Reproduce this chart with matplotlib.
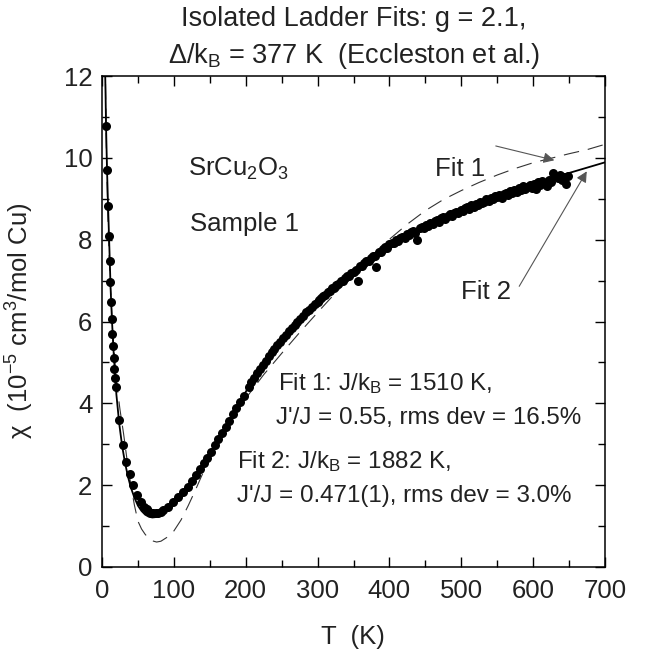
import matplotlib
matplotlib.use('Agg')
import matplotlib.pyplot as plt

# measured susceptibility, SrCu2O3 sample 1 (T in K, chi in 1e-5 cm^3/mol Cu)
T_data = [5.6, 7.0, 8.4, 9.6, 10.6, 11.6, 12.6, 13.6, 14.6, 15.4, 16.2, 17.1, 18.2, 19.3,
          24.1, 28.9, 33.5, 39.1, 43.7, 49.2, 54.4, 59.0, 62.0, 64.6, 68.0, 71.5, 75.0,
          78.5, 82.0, 85.5, 92.5, 99.4,
          106.4, 113.4, 119.0, 125.0, 131.0, 137.0, 141.5, 146.5, 152.0, 157.0, 162.0,
          167.0, 172.0, 177.0, 182.0, 187.0, 192.0, 197.0,
          204, 208, 212, 216, 220, 224, 228, 232, 236, 240, 244, 248, 252, 256, 260,
          264, 268, 272, 276, 280, 284, 288, 292, 296, 300,
          302, 305, 308, 311, 314, 317, 320, 323, 326, 329, 332, 335, 338, 341, 344,
          347, 350, 353, 356, 359, 362, 365, 368, 371, 374, 377, 380, 382, 385, 388,
          391, 394, 397, 400, 403, 406, 409, 412, 415, 418, 421, 424, 427, 430, 433,
          436, 439, 442, 445, 448, 451, 454, 457, 460, 463, 466, 469, 472, 475, 478,
          481, 484, 487, 490, 493, 496, 499, 502, 505, 508, 511, 514, 517, 520, 523,
          526, 529, 532, 535, 538, 541, 544, 547, 550, 553, 556, 559, 562, 565, 568,
          571, 574, 577, 580, 583, 586, 589, 592, 595, 598, 601, 604, 607, 610, 613,
          616, 619, 622, 625, 628, 631, 634, 637, 640, 643, 646, 649]
chi_data = [10.78, 9.71, 8.83, 8.10, 7.47, 6.96, 6.47, 6.07, 5.70, 5.40, 5.12, 4.85, 4.62, 4.40,
            3.59, 2.99, 2.57, 2.27, 2.00, 1.77, 1.59, 1.47, 1.41, 1.37, 1.33, 1.31, 1.31,
            1.32, 1.35, 1.39, 1.47, 1.59,
            1.71, 1.83, 1.95, 2.09, 2.24, 2.39, 2.53, 2.67, 2.82, 2.98, 3.13,
            3.28, 3.43, 3.58, 3.74, 3.89, 4.04, 4.19,
            4.40, 4.51, 4.62, 4.73, 4.84, 4.94, 5.04, 5.15, 5.25, 5.34, 5.43, 5.51, 5.59, 5.67, 5.76,
            5.84, 5.91, 5.99, 6.07, 6.14, 6.22, 6.29, 6.35, 6.42, 6.48,
            6.52, 6.57, 6.63, 6.65, 6.72, 6.75, 6.81, 6.83, 6.90, 6.91, 6.99, 7.00, 7.06, 7.10, 7.12,
            7.19, 7.21, 7.26, 7.00, 7.35, 7.36, 7.42, 7.47, 7.48, 7.55, 7.59, 7.60, 7.32, 7.70, 7.71,
            7.77, 7.82, 7.80, 7.90, 7.92, 7.91, 8.00, 7.97, 8.04, 8.06, 8.05, 8.13, 8.12, 8.18, 8.20,
            8.17, 7.98, 8.28, 8.30, 8.29, 8.36, 8.34, 8.41, 8.39, 8.45, 8.47, 8.44, 8.52, 8.55, 8.51,
            8.58, 8.62, 8.57, 8.65, 8.68, 8.64, 8.73, 8.70, 8.77, 8.80, 8.74, 8.84, 8.81, 8.88, 8.85,
            8.93, 8.90, 8.92, 8.99, 8.95, 9.03, 9.00, 9.06, 9.04, 9.10, 9.03, 9.12, 9.14, 9.08, 9.18,
            9.15, 9.22, 9.17, 9.26, 9.21, 9.30, 9.24, 9.28, 9.34, 9.27, 9.37, 9.24, 9.40, 9.34, 9.44,
            9.38, 9.32, 9.47, 9.42, 9.62, 9.56, 9.50, 9.58, 9.45, 9.52, 9.36, 9.55]

# Fit 1 (dashed)
T_fit1 = [4.6, 5, 6, 8, 10, 12, 15, 20, 25, 30, 35, 40, 45, 50, 55, 60, 65, 70, 76, 82, 90,
          100, 110, 120, 130, 140, 150, 160, 170, 180, 190, 200, 225, 250, 275, 300, 325,
          350, 375, 400, 425, 450, 475, 500, 525, 550, 575, 600, 625, 650, 675, 700]
chi_fit1 = [12.4, 11.6, 10.3, 8.65, 7.6, 6.75, 5.7, 4.55, 3.85, 3.26, 2.6, 2.02, 1.52, 1.12,
            0.93, 0.80, 0.70, 0.64, 0.61, 0.63, 0.72, 0.88, 1.15, 1.50, 1.88, 2.28, 2.66,
            3.01, 3.31, 3.59, 3.86, 4.12, 4.70, 5.22, 5.73, 6.22, 6.70, 7.16, 7.60, 8.01,
            8.38, 8.71, 8.98, 9.20, 9.40, 9.58, 9.74, 9.88, 9.99, 10.1, 10.2, 10.33]

# Fit 2 (solid)
T_fit2 = [4.0, 5.0, 5.6, 7.0, 8.4, 10, 12, 14, 16, 18, 20, 24, 28, 32, 36, 40, 45, 50, 55,
          60, 65, 70, 75, 80, 85, 90, 95, 100, 110, 120, 130, 140, 150, 160, 170, 180, 190,
          200, 225, 250, 275, 300, 325, 350, 375, 400, 425, 450, 475, 500, 525, 550, 575,
          600, 625, 650, 675, 700]
chi_fit2 = [12.5, 11.5, 10.8, 9.7, 8.85, 7.95, 6.8, 5.98, 5.3, 4.72, 4.22, 3.5, 2.96, 2.55,
            2.22, 1.95, 1.70, 1.50, 1.37, 1.28, 1.23, 1.21, 1.22, 1.26, 1.32, 1.40, 1.49,
            1.59, 1.78, 1.99, 2.25, 2.52, 2.78, 3.07, 3.37, 3.67, 3.98, 4.28, 4.97, 5.55,
            6.05, 6.48, 6.88, 7.22, 7.56, 7.88, 8.12, 8.35, 8.55, 8.73, 8.90, 9.06, 9.22,
            9.37, 9.50, 9.63, 9.76, 9.89]

x_ticks = [0, 100, 200, 300, 400, 500, 600, 700]
y_ticks = [0, 2, 4, 6, 8, 10, 12]

plt.rcParams['font.family'] = ['Liberation Sans', 'DejaVu Sans']
plt.rcParams['mathtext.fontset'] = 'custom'
plt.rcParams['mathtext.rm'] = 'Liberation Sans'
plt.rcParams['mathtext.it'] = 'Liberation Sans:italic'
plt.rcParams['mathtext.bf'] = 'Liberation Sans:bold'

txt = '#222222'

fig = plt.figure(figsize=(6.49, 6.56), dpi=100)
ax = fig.add_axes([102/649, 89/656, 503/649, 491/656])

ax.plot(T_fit1, chi_fit1, color='#333333', lw=0.8, ls=(0, (14, 8)))
ax.plot(T_fit2, chi_fit2, color='black', lw=1.3)
ax.plot(T_data, chi_data, 'o', color='black', ms=6.5, mec='none')

ax.set_xlim(0, 700)
ax.set_ylim(0, 12)
ax.set_xticks(x_ticks)
ax.set_xticks(range(50, 700, 100), minor=True)
ax.set_yticks(y_ticks)
ax.set_yticks(range(1, 12, 2), minor=True)
ax.tick_params(which='both', direction='in', top=True, right=True, width=1.0,
               labelsize=18.5, labelcolor=txt)
ax.tick_params(which='major', length=7.5)
ax.tick_params(which='minor', length=5)
ax.tick_params(axis='x', pad=9)
ax.tick_params(axis='y', pad=7)
for s in ax.spines.values():
    s.set_linewidth(1.1)

fig.text(354/649, 1 - 26/656, 'Isolated Ladder Fits: g = 2.1,', fontsize=19.5,
         ha='center', va='baseline', color=txt)
fig.text(354/649, 1 - 63/656, 'Δ/k$_\\mathrm{B}$ = 377 K  (Eccleston et al.)',
         fontsize=19.5, ha='center', va='baseline', color=txt)
fig.text(353/649, 1 - 637/656, 'T  (K)', fontsize=18.5, ha='center', va='center', color=txt)
fig.text(20/649, 1 - 321/656, 'χ  (10$^{-5}$ cm$^3$/mol Cu)', fontsize=18.5,
         rotation=90, ha='center', va='center', color=txt)

ax.text(120, 9.56, r'SrCu$_2$O$_3$', fontsize=18.5, color=txt, va='baseline')
ax.text(123, 8.22, 'Sample 1', fontsize=18.5, color=txt, va='baseline')

ax.text(245.5, 4.33, r'Fit 1: J/k$_\mathrm{B}$ = 1510 K,', fontsize=17.4, color=txt, va='baseline')
ax.text(242.7, 3.50, "J'/J = 0.55, rms dev = 16.5%", fontsize=17.4, color=txt, va='baseline')
ax.text(188.5, 2.41, r'Fit 2: J/k$_\mathrm{B}$ = 1882 K,', fontsize=17.4, color=txt, va='baseline')
ax.text(188.5, 1.59, "J'/J = 0.471(1), rms dev = 3.0%", fontsize=17.4, color=txt, va='baseline')

ax.text(464, 9.56, 'Fit 1', fontsize=18.5, color=txt, va='baseline')
ax.text(499, 6.55, 'Fit 2', fontsize=18.5, color=txt, va='baseline')
arrow = dict(arrowstyle='-|>', color='#555555', lw=0.8, mutation_scale=16,
             shrinkA=0, shrinkB=0)
ax.annotate('', xy=(629.5, 9.94), xytext=(548, 10.29), arrowprops=arrow)
ax.annotate('', xy=(674.6, 9.67), xytext=(580.6, 6.86), arrowprops=arrow)

fig.savefig('out.png', dpi=100)
